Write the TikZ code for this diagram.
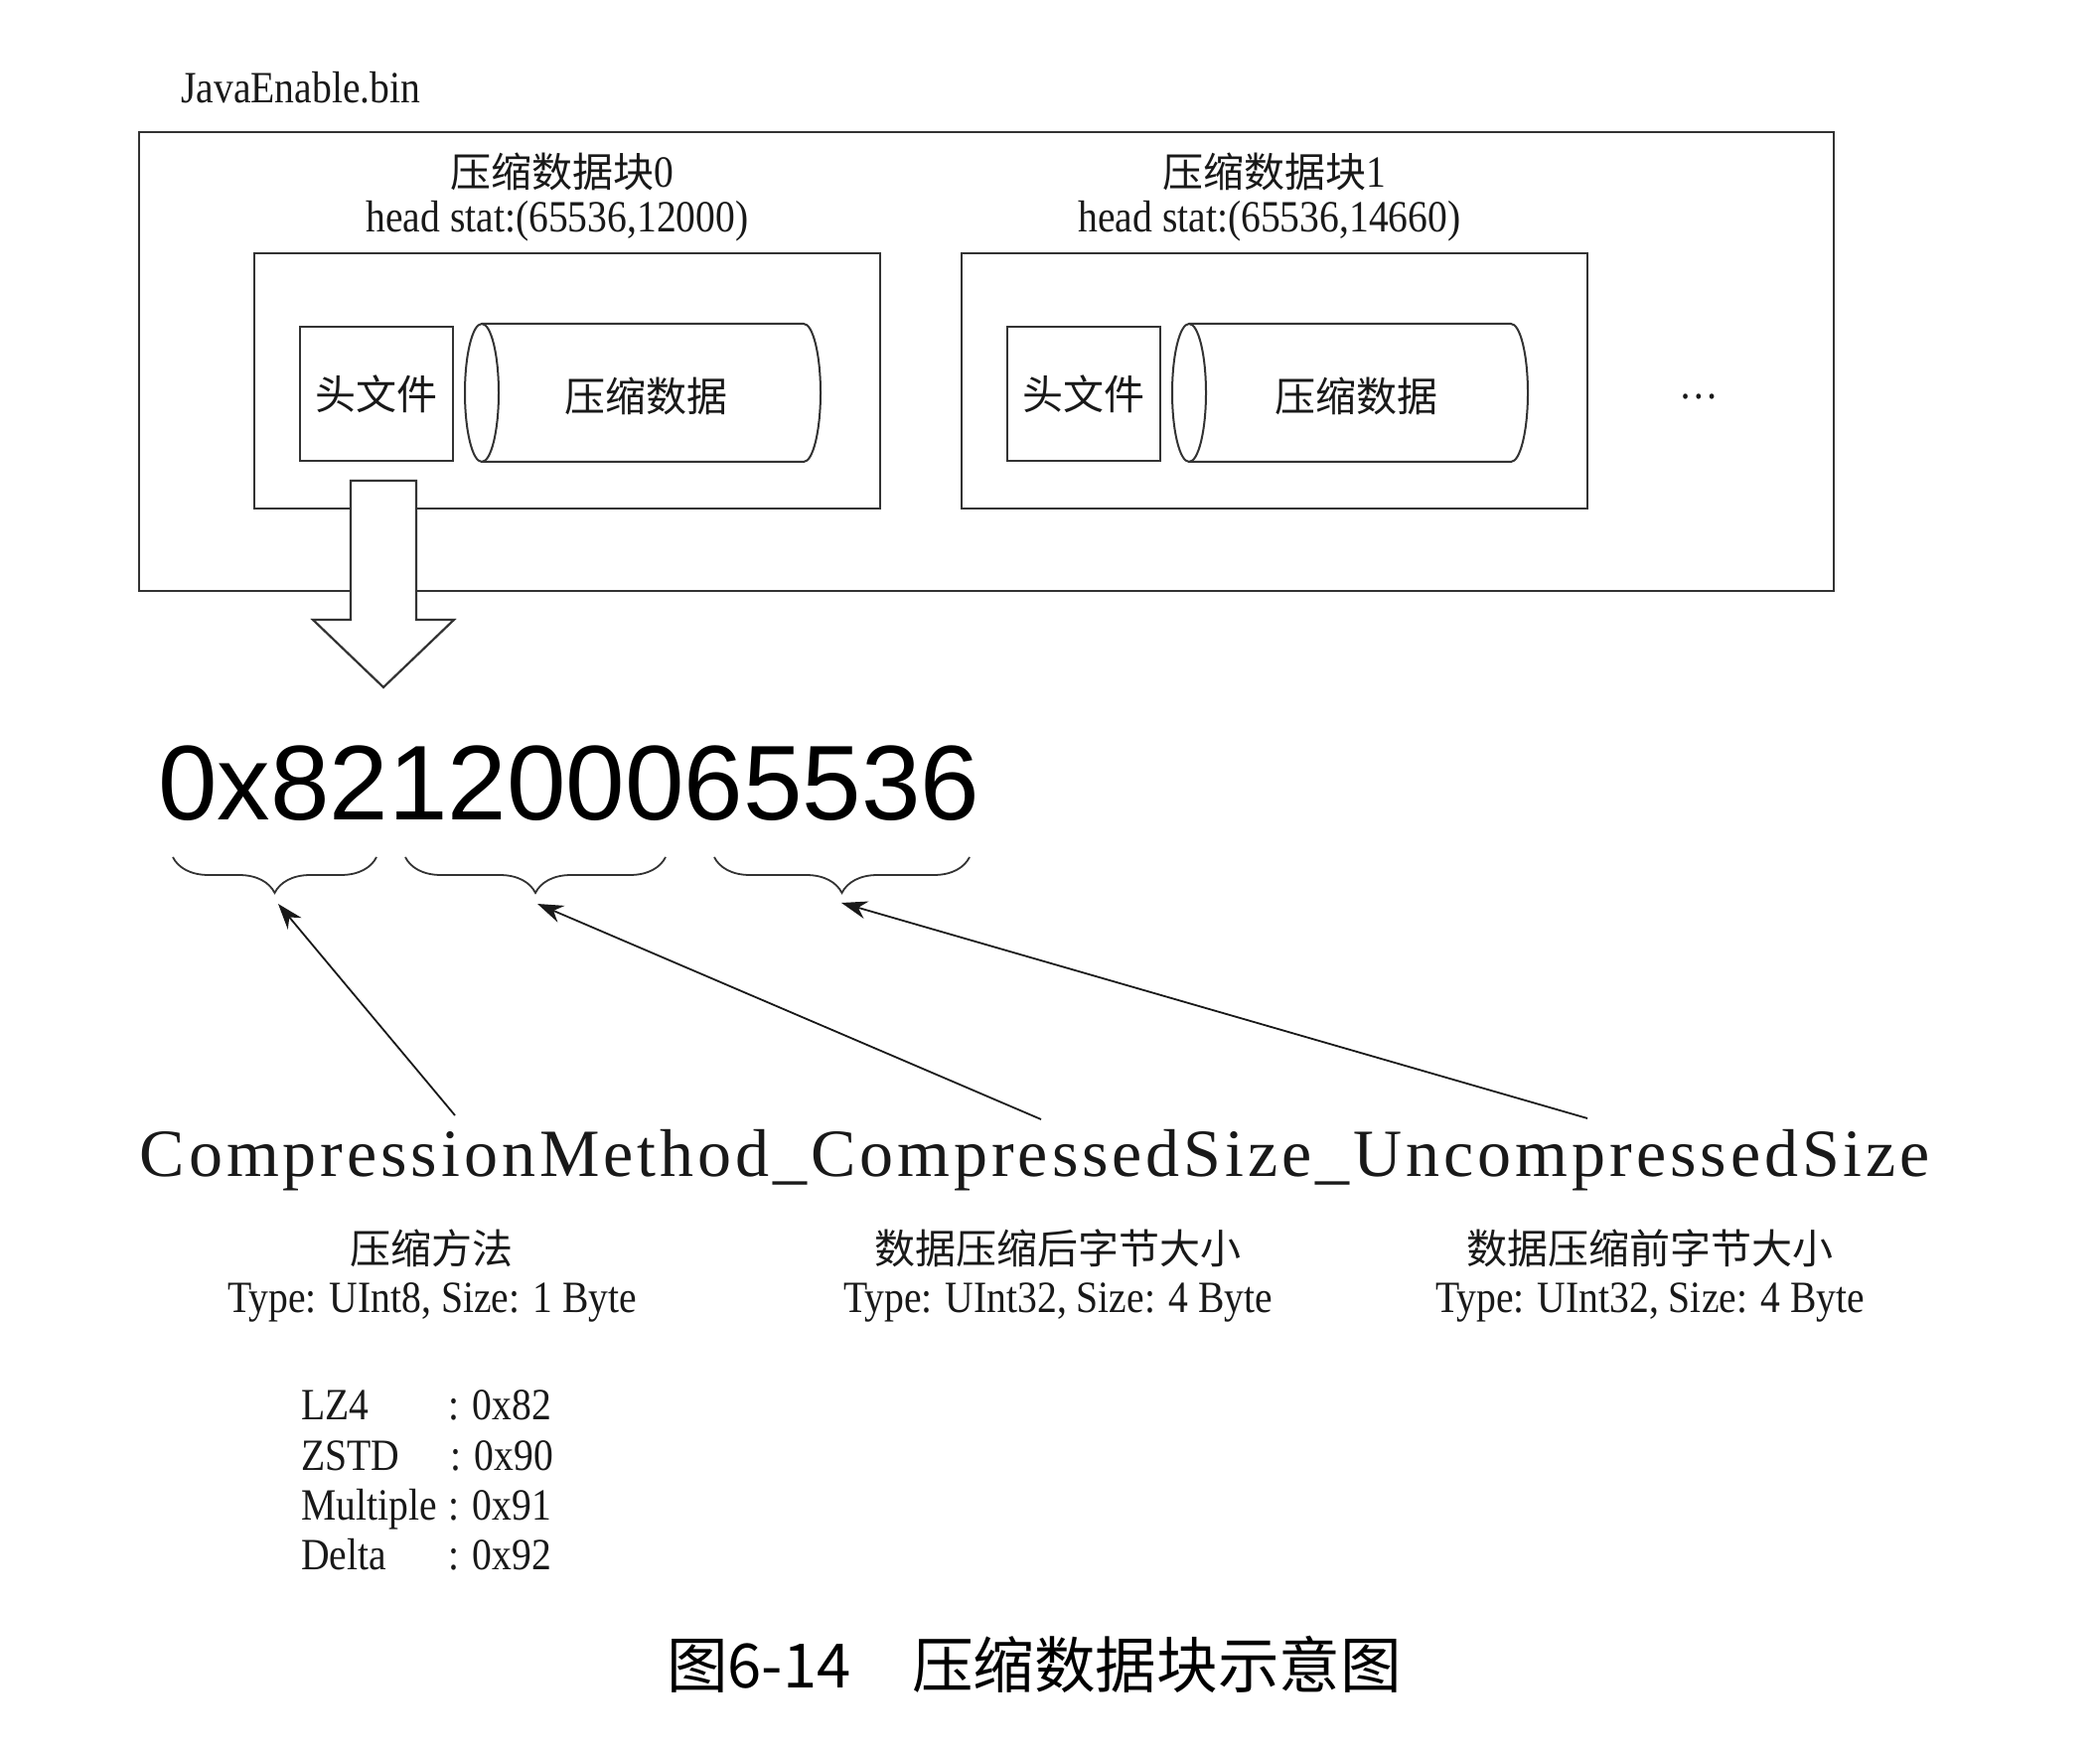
\documentclass[tikz,border=0pt]{standalone}
\usepackage{fontspec}
\setmainfont{Liberation Serif}
\newfontfamily\latf[FakeStretch=0.88]{Liberation Serif}
\newfontfamily\widef[LetterSpace=5.8]{Liberation Serif}
\newfontfamily\cjkf{Noto Sans CJK SC}
\newfontfamily\hexf{Liberation Sans}
\newcommand\latxt[1]{{\latf\fontsize{22.5}{26}\selectfont #1}}
\usetikzlibrary{arrows.meta,decorations.pathreplacing}
\begin{document}
\begin{tikzpicture}[x=0.5pt,y=0.5pt,
  boxn/.style={draw=black!80, line width=1.2pt, inner sep=0pt},
  cyl/.style={draw=black!80, line width=1pt},
  lat/.style={font=\latf\fontsize{22.5}{26}\selectfont, inner sep=0pt, text=black!90},
  cjk/.style={font=\cjkf\fontsize{20.5}{24}\selectfont, inner sep=0pt, text=black!90},
  brc/.style={draw=black!80, line width=0.9pt, decorate, decoration={brace, amplitude=18pt}},
  ptr/.style={draw=black!90, line width=0.9pt, -{Stealth[length=13pt,width=9pt]}},
]
\path[use as bounding box, fill=white] (0,0) rectangle (2114,-1764);

% file label
\node[lat, anchor=base west] (file) at (182,-104) {JavaEnable.bin};

% containers
\node[boxn, minimum width=853pt, minimum height=231pt] (outer) at (993,-364) {};
\node[boxn, minimum width=315pt, minimum height=128.5pt] (blk0) at (571,-383.5) {};
\node[boxn, minimum width=315pt, minimum height=128.5pt] (blk1) at (1283,-383.5) {};

% titles
\node[cjk] (t0) at (566,-173) {压缩数据块\latxt{0}};
\node[lat, anchor=base] (s0) at (561,-234) {head stat:(65536,12000)};
\node[cjk] (t1) at (1283,-173) {压缩数据块\latxt{1}};
\node[lat, anchor=base] (s1) at (1278,-234) {head stat:(65536,14660)};

% header boxes
\node[boxn, cjk, draw=black!80, line width=1.2pt, minimum width=77pt, minimum height=67.5pt] (h0) at (379,-396.5) {头文件};
\node[boxn, cjk, draw=black!80, line width=1.2pt, minimum width=77pt, minimum height=67.5pt] (h1) at (1091,-396.5) {头文件};

% cylinders
\draw[cyl] (485,-326) -- (809,-326) arc[start angle=90, end angle=-90, x radius=17, y radius=69.5] -- (485,-465);
\draw[cyl] (485,-395.5) ellipse[x radius=17, y radius=69.5];
\node[cjk] (c0) at (650,-399) {压缩数据};
\draw[cyl] (1197,-326) -- (1521,-326) arc[start angle=90, end angle=-90, x radius=17, y radius=69.5] -- (1197,-465);
\draw[cyl] (1197,-395.5) ellipse[x radius=17, y radius=69.5];
\node[cjk] (c1) at (1365,-399) {压缩数据};

\node[lat] (dots) at (1710,-399) {…};

% big arrow
\draw[draw=black!80, line width=1.1pt, fill=white] (353,-484) -- (419,-484) -- (419,-624) -- (457,-624) -- (386,-692) -- (315,-624) -- (353,-624) -- cycle;

% hex value
\node[font=\hexf\fontsize{53.5}{60}\selectfont, inner sep=0pt, anchor=west] (hex) at (159,-789) {0x821200065536};

% braces
\coordinate (b1r) at (379,-863); \coordinate (b1l) at (174,-863);
\coordinate (b2r) at (670,-863); \coordinate (b2l) at (408,-863);
\coordinate (b3r) at (976,-863); \coordinate (b3l) at (719,-863);
\draw[brc] (b1r) -- (b1l);
\draw[brc] (b2r) -- (b2l);
\draw[brc] (b3r) -- (b3l);

% format string
\node[font=\widef\fontsize{34}{40}\selectfont, inner sep=0pt, anchor=base, text=black!90] (fmt) at (1042,-1184) {CompressionMethod\_CompressedSize\_UncompressedSize};

% arrows
\coordinate (a1) at (458,-1123); \coordinate (p1) at (280,-910);
\coordinate (a2) at (1048,-1127); \coordinate (p2) at (541,-910);
\coordinate (a3) at (1598,-1126); \coordinate (p3) at (847,-909);
\draw[ptr] (a1) -- (p1);
\draw[ptr] (a2) -- (p2);
\draw[ptr] (a3) -- (p3);

% field descriptions
\node[cjk] (m1) at (434,-1257) {压缩方法};
\node[lat, anchor=base] (y1) at (435,-1321) {Type: UInt8, Size: 1 Byte};
\node[cjk] (m2) at (1065,-1257) {数据压缩后字节大小};
\node[lat, anchor=base] (y2) at (1065,-1321) {Type: UInt32, Size: 4 Byte};
\node[cjk] (m3) at (1661,-1257) {数据压缩前字节大小};
\node[lat, anchor=base] (y3) at (1661,-1321) {Type: UInt32, Size: 4 Byte};

% method table
\node[lat, anchor=base west] (k1) at (303,-1429) {LZ4};
\node[lat, anchor=base west] (v1) at (451,-1429) {: 0x82};
\node[lat, anchor=base west] (k2) at (303,-1480) {ZSTD};
\node[lat, anchor=base west] (v2) at (453,-1480) {: 0x90};
\node[lat, anchor=base west] (k3) at (303,-1530) {Multiple};
\node[lat, anchor=base west] (v3) at (451,-1530) {: 0x91};
\node[lat, anchor=base west] (k4) at (303,-1580) {Delta};
\node[lat, anchor=base west] (v4) at (451,-1580) {: 0x92};

% caption
\node[font=\cjkf\fontsize{30.8}{36}\selectfont, inner sep=0pt] (cap) at (1041,-1676) {图6-14　压缩数据块示意图};
\end{tikzpicture}
\end{document}
